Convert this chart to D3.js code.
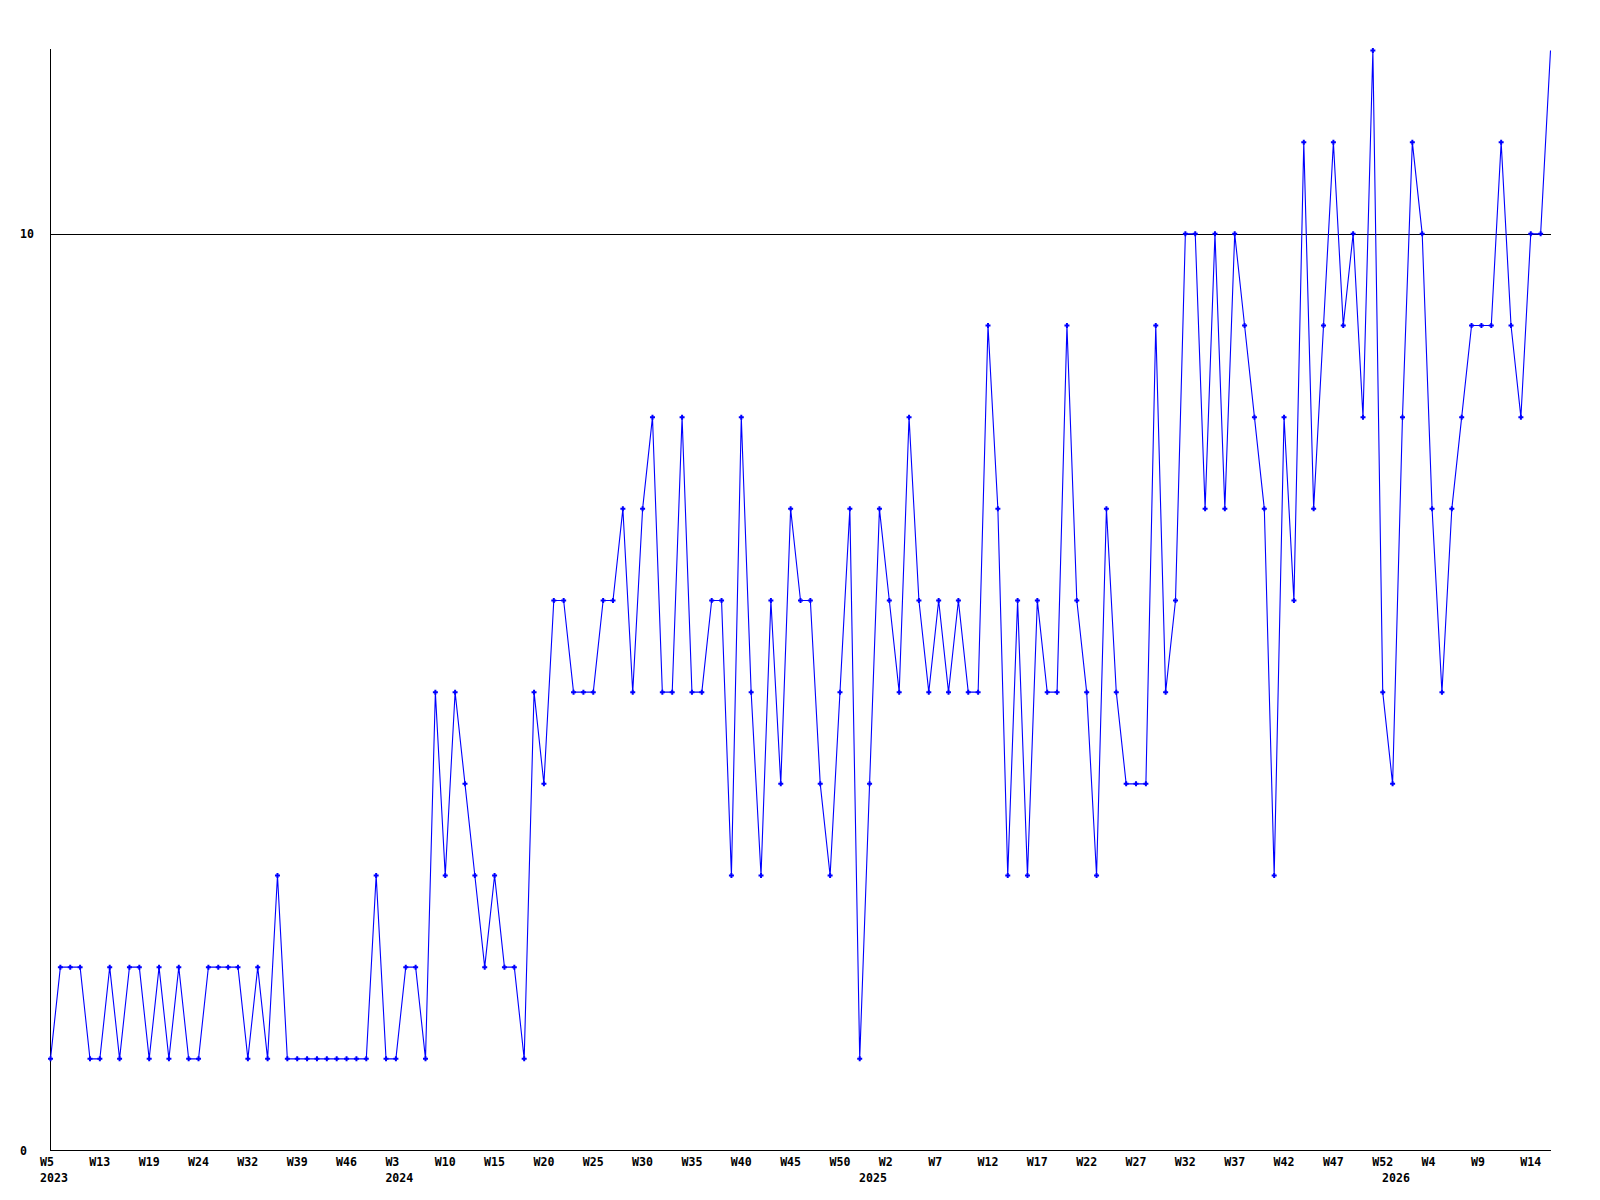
<!DOCTYPE html>
<html>
<head>
<meta charset="utf-8">
<script src="https://cdn.jsdelivr.net/npm/d3@7"></script>
<style>
  html, body { margin: 0; padding: 0; background: #ffffff; }
  svg { display: block; }
  text { font-family: "DejaVu Sans Mono", "Liberation Mono", monospace; font-weight: bold; font-size: 11.6px; fill: #000; }
</style>
</head>
<body>
<svg id="chart" width="1600" height="1200"></svg>
<script>
// Weekly counts (one point per week that had data)
const values = [
  1,2,2,2,1,1,2,1,2,2,1,2,1,2,1,1,2,2,2,2,1,2,1,3,1,1,1,
  1,1,1,1,1,1,3,1,1,2,2,1,5,3,5,4,3,2,3,2,2,1,5,4,6,6,
  5,5,5,6,6,7,5,7,8,5,5,8,5,5,6,6,3,8,5,3,6,4,7,6,6,4,3,
  5,7,1,4,7,6,5,8,6,5,6,5,6,5,5,9,7,3,6,3,6,5,5,9,6,5,
  3,7,5,4,4,4,9,5,6,10,10,7,10,7,10,9,8,7,3,8,6,11,7,9,11,9,10,8,12,5,4,8,11,10,7,5,7,8,9,9,9,11,9,8,10,10,12
];
// Week tick labels, one for every 5th point
const tickLabels = ["W5","W13","W19","W24","W32","W39","W46","W3","W10","W15","W20",
  "W25","W30","W35","W40","W45","W50","W2","W7","W12","W17","W22","W27","W32","W37",
  "W42","W47","W52","W4","W9","W14"];
const tickStep = 5;
// Year labels and the point index where each year starts
const yearLabels = ["2023","2024","2025","2026"];
const yearStartIndex = [0, 35, 83, 136];
// Y axis
const yTicks = [0, 10];
const yMax = 12;
const refLine = 10;

const svg = d3.select("#chart");
const idx = d3.range(values.length);

const x = d3.scalePoint().domain(idx).range([50.5, 1550.5]);
const y = d3.scaleLinear().domain([0, yMax]).range([1150.5, 50.5]);

// Bottom axis (week labels)
const tickIdx = tickLabels.map((_, i) => i * tickStep);
const xAxis = d3.axisBottom(x).tickValues(tickIdx).tickSize(0)
  .tickFormat(d => tickLabels[d / tickStep]);
const gx = svg.append("g").attr("transform", "translate(0,1150.5)").call(xAxis);
gx.select(".domain").attr("d", "M50,0H1551").attr("stroke", "#000").attr("stroke-width", 1);
gx.selectAll(".tick text").attr("text-anchor", "start").attr("dx", -11).attr("y", 0).attr("dy", 15.5)
  .attr("font-size", null).attr("font-family", null);

// Year labels as a second bottom axis
const xAxisYears = d3.axisBottom(x).tickValues(yearStartIndex).tickSize(0)
  .tickFormat(d => yearLabels[yearStartIndex.indexOf(d)]);
const gy2 = svg.append("g").attr("transform", "translate(0,1150.5)").call(xAxisYears);
gy2.select(".domain").remove();
gy2.selectAll(".tick text").attr("text-anchor", "start").attr("dx", -11).attr("y", 0).attr("dy", 31)
  .attr("font-size", null).attr("font-family", null);

// Left axis
const yAxis = d3.axisLeft(y).tickValues(yTicks).tickSize(0).tickFormat(d3.format("d"));
const gyA = svg.append("g").attr("transform", "translate(50.5,0)").call(yAxis);
gyA.select(".domain").attr("d", "M0,49H0V1151").attr("stroke", "#000").attr("stroke-width", 1);
gyA.selectAll(".tick text").attr("text-anchor", "start").attr("x", -30.5).attr("dy", "0.33em")
  .attr("font-size", null).attr("font-family", null);

// Reference line at 10
svg.append("line")
  .attr("x1", 50).attr("x2", 1551)
  .attr("y1", Math.round(y(refLine)) + 0.5).attr("y2", Math.round(y(refLine)) + 0.5)
  .attr("stroke", "#000").attr("stroke-width", 1);

// Data line
const line = d3.line().x((d, i) => x(i)).y(d => y(d));
svg.append("path")
  .datum(values)
  .attr("fill", "none")
  .attr("stroke", "#0000ff")
  .attr("stroke-width", 1.1)
  .attr("d", line);

// Markers (no marker on the final, still-running week)
const marker = "M-2.5,-1h5v2h-5z M-1,-2.5h2v5h-2z";
svg.append("g").selectAll("path")
  .data(values.slice(0, values.length - 1))
  .join("path")
  .attr("d", marker)
  .attr("fill", "#0000ff")
  .attr("transform", (d, i) => `translate(${x(i)},${y(d)})`);
</script>
</body>
</html>
